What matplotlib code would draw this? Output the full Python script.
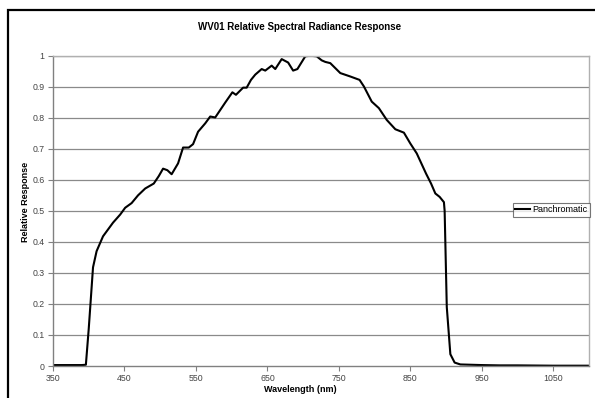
import matplotlib
matplotlib.use("Agg")
import matplotlib.pyplot as plt
from matplotlib.patches import Rectangle

plt.rcParams['font.family'] = ['Liberation Sans', 'DejaVu Sans']

# wavelength (nm) and relative response
wavelength = [350, 360, 370, 380, 390, 396, 400, 406, 411, 420, 427, 434, 444, 451,
              460, 469, 479, 491, 498, 504, 510, 516, 525, 532, 540, 546, 553, 563,
              570, 577, 584, 591, 601, 606, 616, 621, 627, 633, 642, 647, 656, 661,
              670, 679, 686, 692, 703, 710, 719, 726, 731, 738, 745, 752, 766, 779,
              785, 796, 806, 817, 829, 841, 850, 859, 872, 879, 885, 891, 897, 898,
              901, 906, 912, 920, 935, 950, 975, 1000, 1050, 1100]
response = [0.003, 0.003, 0.003, 0.003, 0.003, 0.004, 0.12, 0.318, 0.37, 0.418, 0.44,
            0.462, 0.488, 0.51, 0.525, 0.55, 0.572, 0.588, 0.612, 0.636, 0.631, 0.618,
            0.653, 0.704, 0.704, 0.715, 0.755, 0.782, 0.804, 0.801, 0.825, 0.849,
            0.882, 0.874, 0.897, 0.897, 0.922, 0.939, 0.957, 0.952, 0.968, 0.957,
            0.989, 0.978, 0.952, 0.957, 0.998, 1.0, 0.998, 0.985, 0.98, 0.976, 0.96,
            0.944, 0.933, 0.922, 0.901, 0.852, 0.831, 0.793, 0.763, 0.752, 0.717,
            0.685, 0.62, 0.588, 0.556, 0.545, 0.528, 0.5, 0.19, 0.038, 0.011, 0.005,
            0.004, 0.003, 0.002, 0.002, 0.001, 0.001]

xticks = [350, 450, 550, 650, 750, 850, 950, 1050]
yticks = [0, 0.1, 0.2, 0.3, 0.4, 0.5, 0.6, 0.7, 0.8, 0.9, 1]
yticklabels = ['0', '0.1', '0.2', '0.3', '0.4', '0.5', '0.6', '0.7', '0.8', '0.9', '1']

W, H = 595, 398
fig = plt.figure(figsize=(W / 100, H / 100), dpi=100)
ax = fig.add_axes([53 / W, 1 - 366 / H, (589 - 53) / W, (366 - 55.7) / H])

# outer chart frame (cropped at right and bottom)
fig.patches.append(Rectangle((8 / W, -0.1), 1.2, 1 - 10 / H + 0.1,
                             transform=fig.transFigure, fill=False,
                             edgecolor='black', linewidth=1.6))

ax.plot(wavelength, response, color='black', linewidth=1.5, label='Panchromatic')

ax.set_xlim(350, 1100)
ax.set_ylim(0, 1)
ax.set_xticks(xticks)
ax.set_xticklabels([str(t) for t in xticks])
ax.set_yticks(yticks)
ax.set_yticklabels(yticklabels)

for y in yticks[1:]:
    ax.axhline(y, color='#8a8a8a', linewidth=0.9, zorder=0)

for side in ['top', 'right']:
    ax.spines[side].set_color('#b0b0b0')
    ax.spines[side].set_linewidth(1.0)
for side in ['left', 'bottom']:
    ax.spines[side].set_color('#808080')
    ax.spines[side].set_linewidth(1.0)

ax.tick_params(axis='both', direction='out', length=3.5, width=0.8,
               color='#808080', labelsize=6.3, labelcolor='#444444', pad=2.5)

fig.text(300 / W, 1 - 27 / H, 'WV01 Relative Spectral Radiance Response',
         ha='center', va='center', fontsize=7, fontweight='bold')
fig.text(300 / W, 1 - 390 / H, 'Wavelength (nm)', ha='center', va='center',
         fontsize=6.5, fontweight='bold')
fig.text(25 / W, 1 - 202 / H, 'Relative Response', ha='center', va='center',
         rotation=90, fontsize=6.5, fontweight='bold')

leg = ax.legend(loc='center right', bbox_to_anchor=(590 / W, 1 - 210 / H),
                bbox_transform=fig.transFigure, fontsize=6.5, frameon=True,
                fancybox=False, handlelength=1.6, handletextpad=0.3,
                borderpad=0.25, borderaxespad=0)
leg.get_frame().set_edgecolor('#555555')
leg.get_frame().set_linewidth(0.8)

fig.savefig('out.png', dpi=100)
